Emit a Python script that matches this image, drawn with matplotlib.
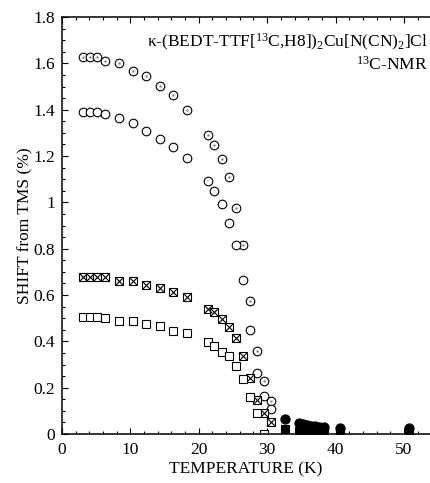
import numpy as np
import matplotlib
matplotlib.use("Agg")
import matplotlib.pyplot as plt
import matplotlib.ticker as ticker

plt.rcParams['font.family'] = ['Liberation Serif', 'DejaVu Serif']
plt.rcParams['mathtext.fontset'] = 'custom'
plt.rcParams['mathtext.rm'] = 'Liberation Serif'
plt.rcParams['mathtext.it'] = 'Liberation Serif:italic'
plt.rcParams['mathtext.default'] = 'regular'

# temperatures shared by the four open-symbol sets (K)
temp = [3.1, 4.1, 5.2, 6.3, 8.4, 10.4, 12.3, 14.35, 16.2, 18.3,
        21.3, 22.3, 23.4, 24.45, 25.5, 26.5, 27.5, 28.5, 29.5, 30.6]

shift_dot = [1.627, 1.627, 1.626, 1.611, 1.602, 1.568, 1.546, 1.502, 1.463, 1.399,
             1.289, 1.248, 1.186, 1.108, 0.977, 0.815, 0.574, 0.359, 0.231, 0.143]
shift_circ = [1.388, 1.389, 1.388, 1.380, 1.362, 1.341, 1.308, 1.275, 1.239, 1.190,
              1.090, 1.050, 0.991, 0.911, 0.815, 0.663, 0.450, 0.263, 0.164, 0.107]
shift_xsq = [0.676, 0.676, 0.678, 0.676, 0.661, 0.659, 0.645, 0.630, 0.613, 0.590,
             0.541, 0.527, 0.495, 0.462, 0.414, 0.335, 0.243, 0.148, 0.092, 0.053]
temp_sq = temp[:19]
shift_sq = [0.506, 0.506, 0.506, 0.502, 0.490, 0.489, 0.476, 0.466, 0.444, 0.438,
            0.398, 0.378, 0.356, 0.335, 0.294, 0.236, 0.159, 0.092, 0.0]

# above Tc: filled symbols
temp_hi = [32.6, 34.6, 35.2, 35.8, 36.4, 37.0, 37.6, 38.3, 40.7, 50.8]
shift_hi_circ = [0.066, 0.046, 0.043, 0.038, 0.035, 0.033, 0.032, 0.030, 0.025, 0.025]
shift_hi_sq = [0.020, 0.015, 0.013, 0.012, 0.011, 0.010, 0.010, 0.010, 0.012, 0.012]

fig = plt.figure(figsize=(4.30, 4.83), dpi=100)
ax = fig.add_axes([0.144, 0.1014, 0.856, 0.8634])

kw = dict(ls='none', mec='black', mew=0.8)
ax.plot(temp, shift_dot, marker='o', ms=6.2, mfc='white', **kw)
ax.plot(temp, shift_dot, marker='o', ms=1.3, mfc='gray', mec='gray', mew=0.3, ls='none')
ax.plot(temp, shift_circ, marker='o', ms=6.2, mfc='white', **kw)
ax.plot(temp, shift_xsq, marker='s', ms=5.3, mfc='white', **kw)
ax.plot(temp, shift_xsq, marker='x', ms=5.3, **kw)
ax.plot(temp_sq, shift_sq, marker='s', ms=5.3, mfc='white', **kw)
ax.plot(temp_hi, shift_hi_sq, marker='s', ms=5.8, mfc='black', **kw)
ax.plot(temp_hi, shift_hi_circ, marker='o', ms=6.6, mfc='black', **kw)

ax.set_xlim(0, 53.8)
ax.set_ylim(0, 1.8)
ax.xaxis.set_major_locator(ticker.MultipleLocator(10))
ax.xaxis.set_minor_locator(ticker.MultipleLocator(2))
ax.yaxis.set_major_locator(ticker.MultipleLocator(0.2))
ax.yaxis.set_minor_locator(ticker.MultipleLocator(0.05))
ax.yaxis.set_major_formatter(ticker.StrMethodFormatter("{x:g}"))

ax.spines['right'].set_visible(False)
for s in ('left', 'bottom', 'top'):
    ax.spines[s].set_linewidth(1.1)
ax.tick_params(which='both', direction='in', top=True, right=False,
               labelsize=12.5, width=0.8)
ax.tick_params(which='major', length=4)
ax.tick_params(which='minor', length=2.2)
ax.tick_params(axis='x', pad=6)
ax.tick_params(axis='y', pad=5)

ax.set_xlabel("TEMPERATURE (K)", fontsize=12.5, labelpad=2)
ax.set_ylabel("SHIFT from TMS (%)", fontsize=12.5, labelpad=0)

ax.text(0.995, 0.94, r"κ-(BEDT-TTF[$^{13}$C,H8])$_2$Cu[N(CN)$_2$]Cl",
        transform=ax.transAxes, ha='right', va='center', fontsize=12.5)
ax.text(0.995, 0.886, r"$^{13}$C-NMR", transform=ax.transAxes,
        ha='right', va='center', fontsize=12.5)

fig.savefig("out.png", dpi=100)
